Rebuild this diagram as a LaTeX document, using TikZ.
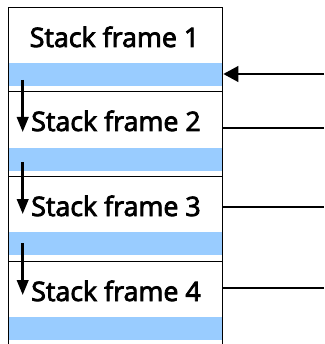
\documentclass[tikz,border=0pt]{standalone}
\usepackage{fontspec}
\setmainfont{Open Sans}
\newfontfamily\framefont{Open Sans}[FakeBold=3]
\usetikzlibrary{arrows.meta}
\definecolor{band}{RGB}{153,204,255}
\begin{document}
\begin{tikzpicture}[x=1pt,y=-1pt,
  framebox/.style={draw=black, line width=1pt, minimum width=214.8pt, minimum height=85pt, inner sep=0pt, anchor=north west},
  bandbox/.style={fill=band, draw=none, minimum width=214.8pt, minimum height=23pt, inner sep=0pt, anchor=north west},
  frametext/.style={font=\framefont\fontsize{26.8}{30}\selectfont, anchor=base, inner sep=0pt},
  ptr/.style={line width=2.5pt, -{Triangle[length=15pt,width=15.5pt]}},
  link/.style={line width=2.5pt},
  down/.style={line width=2.5pt, -{Triangle[length=15pt,width=11.5pt]}}]
\useasboundingbox (0,0) rectangle (324,344);
\clip (0,0) rectangle (324,344);
% bands
\node[bandbox] (b1) at (7.5,63) {};
\node[bandbox] (b2) at (7.5,147.5) {};
\node[bandbox] (b3) at (7.5,232) {};
\node[bandbox] (b4) at (7.5,317) {};
% frames
\node[framebox, minimum height=84pt] (f1) at (7.5,7) {};
\node[framebox] (f2) at (7.5,91) {};
\node[framebox] (f3) at (7.5,176) {};
\node[framebox] (f4) at (7.5,261) {};
% texts
\node[frametext] (t1) at (114.5,47) {Stack frame 1};
\node[frametext] (t2) at (116,131) {Stack frame 2};
\node[frametext] (t3) at (116,216) {Stack frame 3};
\node[frametext] (t4) at (116,301) {Stack frame 4};
% down arrows
\coordinate (d1s) at (22.7,80);
\coordinate (d1e) at (22.7,132);
\coordinate (d2s) at (22.7,162);
\coordinate (d2e) at (22.7,214);
\coordinate (d3s) at (22.7,243);
\coordinate (d3e) at (22.7,295);
\draw[down] (d1s) -- (d1e);
\draw[down] (d2s) -- (d2e);
\draw[down] (d3s) -- (d3e);
% right side
\coordinate (r1) at (324,74);
\coordinate (r2) at (324,128);
\coordinate (r3) at (324,207);
\coordinate (r4) at (324,288);
\draw[ptr] (r1) -- (f1.east |- r1);
\draw[link] (f2.east |- r2) -- (r2);
\draw[link] (f3.east |- r3) -- (r3);
\draw[link] (f4.east |- r4) -- (r4);
\end{tikzpicture}
\end{document}
